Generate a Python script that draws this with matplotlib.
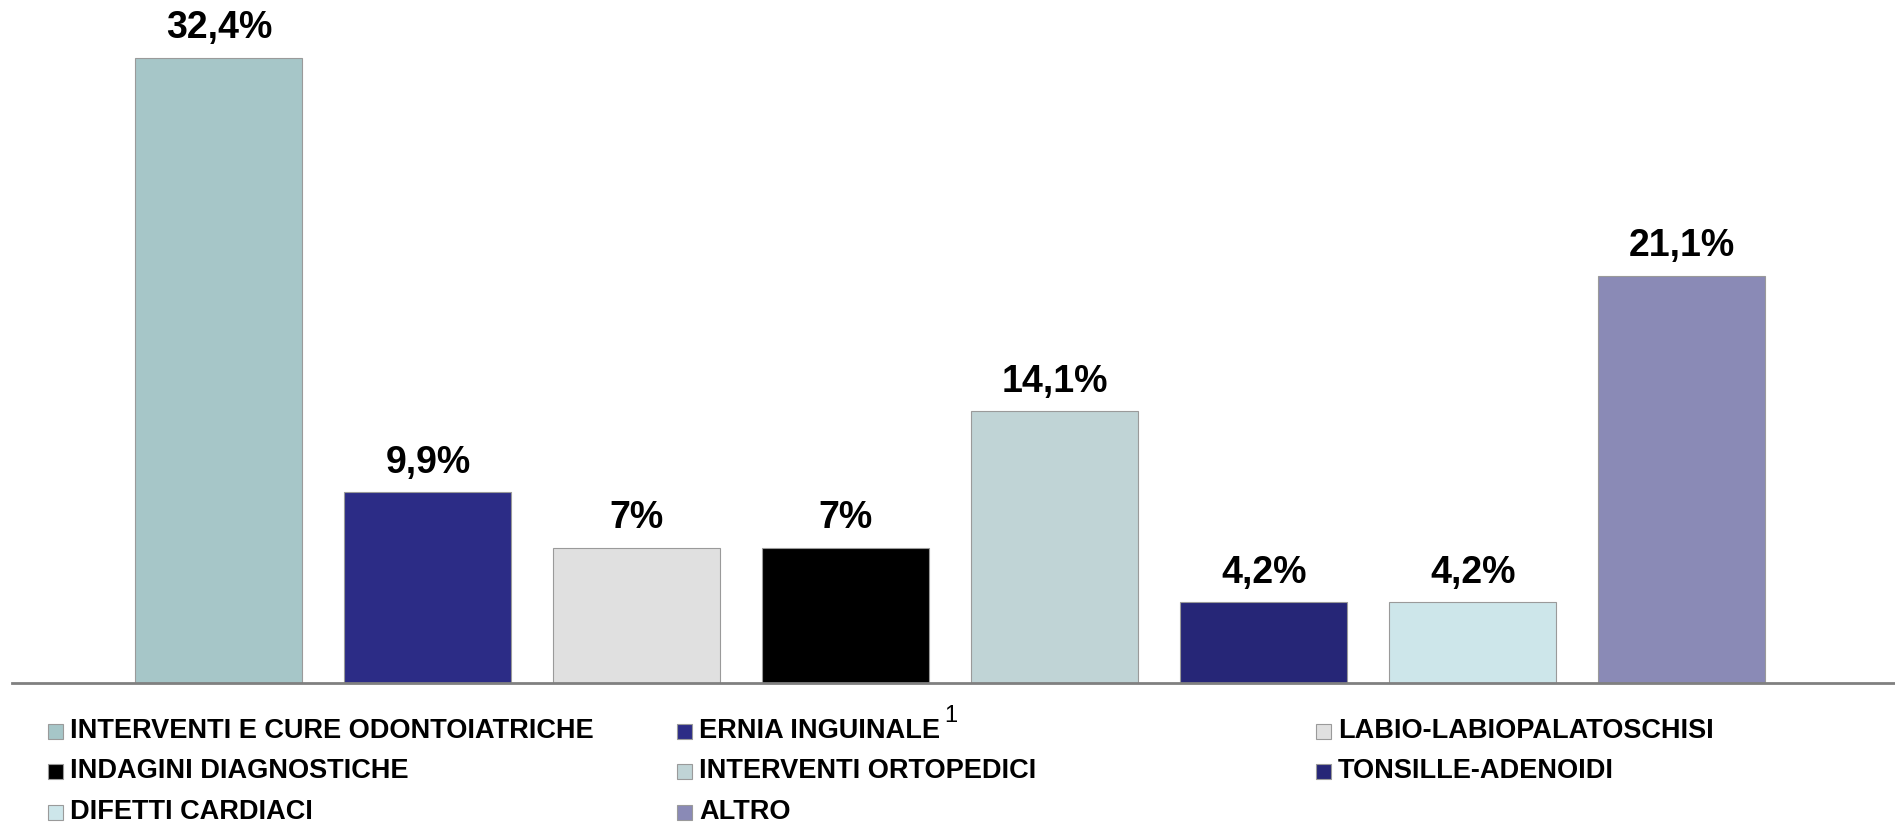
import matplotlib
matplotlib.use("Agg")
import matplotlib.pyplot as plt
from matplotlib.patches import Rectangle

plt.rcParams["font.family"] = ["Liberation Sans", "DejaVu Sans"]

categories = [
    "INTERVENTI E CURE ODONTOIATRICHE",
    "ERNIA INGUINALE",
    "LABIO-LABIOPALATOSCHISI",
    "INDAGINI DIAGNOSTICHE",
    "INTERVENTI ORTOPEDICI",
    "TONSILLE-ADENOIDI",
    "DIFETTI CARDIACI",
    "ALTRO",
]
values = [32.4, 9.9, 7.0, 7.0, 14.1, 4.2, 4.2, 21.1]
colors = ["#A6C6C8", "#2C2C86", "#E0E0E0", "#000000",
          "#C0D4D6", "#262677", "#CDE6EA", "#8A8AB6"]
footnote = {"ERNIA INGUINALE": "1"}

W, H = 1895, 827
fig = plt.figure(figsize=(W / 100, H / 100), dpi=100)
ax = fig.add_axes([12 / W, 144 / H, (W - 12) / W, 683 / H])

x = list(range(len(values)))
ax.bar(x, values, width=0.8, color=colors, edgecolor="#9a9a9a", linewidth=0.8)

for xi, v in zip(x, values):
    lab = f"{v:g}".replace(".", ",") + "%"
    ax.annotate(lab, (xi, v), xytext=(0, 14), textcoords="offset points",
                ha="center", va="baseline", fontsize=27, fontweight="bold")

ax.set_xlim(-0.99, 8.02)
ax.set_ylim(0, 35.4)
ax.set_xticks([])
ax.set_yticks([])
for s in ["top", "left", "right"]:
    ax.spines[s].set_visible(False)
ax.spines["bottom"].set_color("#808080")
ax.spines["bottom"].set_linewidth(2)

# legend drawn by hand, row-major in 3 columns
col_x = [48, 677, 1316]
row_y = [731, 771, 812]
sq = 15
renderer = fig.canvas.get_renderer()
for i, (name, c) in enumerate(zip(categories, colors)):
    r, k = divmod(i, 3)
    px, py = col_x[k], row_y[r]
    fig.add_artist(Rectangle((px / W, (H - py - sq / 2) / H), sq / W, sq / H,
                             facecolor=c, edgecolor="#9a9a9a", linewidth=0.8,
                             transform=fig.transFigure))
    t = fig.text((px + sq + 7) / W, (H - py) / H, name, fontsize=19.5,
                 fontweight="bold", ha="left", va="center")
    if name in footnote:
        bb = t.get_window_extent(renderer)
        fig.text((bb.x1 + 4) / W, (bb.y1 + 2) / H, footnote[name], fontsize=17,
                 ha="left", va="center")

fig.savefig("out.png", dpi=100)
